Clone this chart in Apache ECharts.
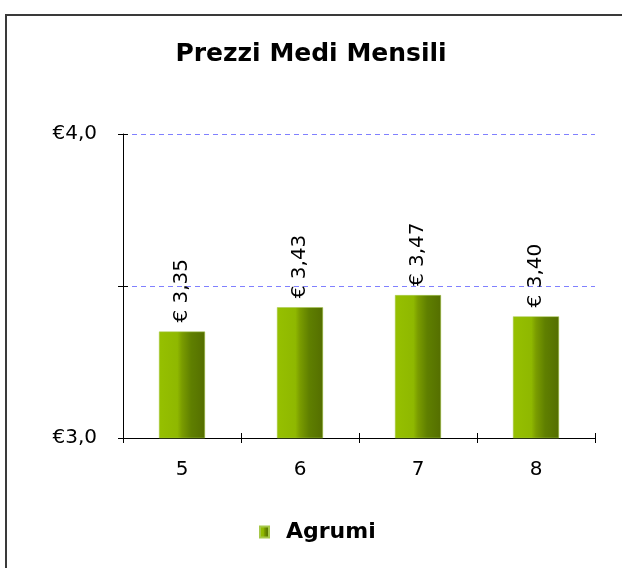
<!DOCTYPE html>
<html><head><meta charset="utf-8">
<script src="https://cdn.jsdelivr.net/npm/echarts@6/dist/echarts.min.js"></script>
<style>html,body{margin:0;padding:0;background:#fff}#c{width:622px;height:568px}</style>
</head><body><div id="c"></div>
<script>
const categories = ['5', '6', '7', '8'];
const values = [3.35, 3.43, 3.47, 3.40];
const seriesName = 'Agrumi';
const titleText = 'Prezzi Medi Mensili';
const yMin = 3.0, yMax = 4.0, yStep = 0.5;

const fmtEuro1 = v => '€' + v.toFixed(1).replace('.', ',');
const fmtEuro2 = v => '€ ' + v.toFixed(2).replace('.', ',');
const font = '"DejaVu Sans", Verdana, sans-serif';

const G = {left: 123, right: 27, top: 134, bottom: 130};
const gridW = 622 - G.left - G.right;
const gridH = 568 - G.top - G.bottom;

const chart = echarts.init(document.getElementById('c'));
const barColor = {
  type: 'linear', x: 0, y: 0, x2: 1, y2: 0,
  colorStops: [
    {offset: 0, color: '#96c000'},
    {offset: 0.4, color: '#8fb800'},
    {offset: 0.5, color: '#7a9c00'},
    {offset: 0.7, color: '#5f7f00'},
    {offset: 1, color: '#546e00'}
  ]
};
chart.setOption({
  animation: false,
  backgroundColor: '#fff',
  graphic: [{
    type: 'rect', shape: {x: 6, y: 15, width: 640, height: 600},
    style: {fill: 'none', stroke: '#3a3a3a', lineWidth: 2}, silent: true, z: -1
  }],
  title: {
    text: titleText, left: 'center', top: 37,
    textStyle: {fontFamily: font, fontSize: 25, fontWeight: 'bold', color: '#000'}
  },
  legend: {
    top: 516, left: 254, itemWidth: 9, itemHeight: 11, icon: 'rect',
    textStyle: {fontFamily: font, fontSize: 22, fontWeight: 'bold', color: '#000', padding: [0, 0, 0, 12]},
    data: [seriesName]
  },
  grid: G,
  xAxis: [{
    type: 'category', data: categories,
    axisLine: {lineStyle: {color: '#000', width: 1}},
    axisTick: {show: true, length: 5, lineStyle: {color: '#000'}},
    axisLabel: {margin: 22, fontFamily: font, fontSize: 20, color: '#000'}
  }, {
    type: 'category', data: categories, position: 'top', offset: -gridH,
    axisLine: {show: false},
    axisTick: {show: true, length: 5, lineStyle: {color: '#000'}},
    axisLabel: {show: false}
  }],
  yAxis: [{
    type: 'value', min: yMin, max: yMax, interval: yStep,
    axisLine: {show: true, lineStyle: {color: '#000'}},
    axisTick: {show: true, length: 5, lineStyle: {color: '#000'}},
    axisLabel: {
      margin: 26, fontFamily: font, fontSize: 20, color: '#000',
      formatter: v => (Math.abs(v - 3.5) < 1e-9 ? '' : fmtEuro1(v))
    },
    splitLine: {show: true, lineStyle: {color: '#8080ff', type: [5, 4], width: 1}}
  }, {
    type: 'value', min: yMin, max: yMax, interval: yStep, position: 'right', offset: -gridW,
    axisLine: {show: false},
    axisTick: {show: true, length: 5, lineStyle: {color: '#000'}},
    axisLabel: {show: false}, splitLine: {show: false}
  }],
  series: [{
    name: seriesName, type: 'bar', data: values, barWidth: '39%',
    itemStyle: {color: barColor, borderColor: '#a6c84a', borderWidth: 0.5},
    label: {
      show: true, position: 'top', rotate: 90, align: 'left', verticalAlign: 'middle',
      distance: 9, fontFamily: font, fontSize: 20, color: '#000',
      formatter: p => fmtEuro2(p.value)
    }
  }]
});
</script></body></html>
